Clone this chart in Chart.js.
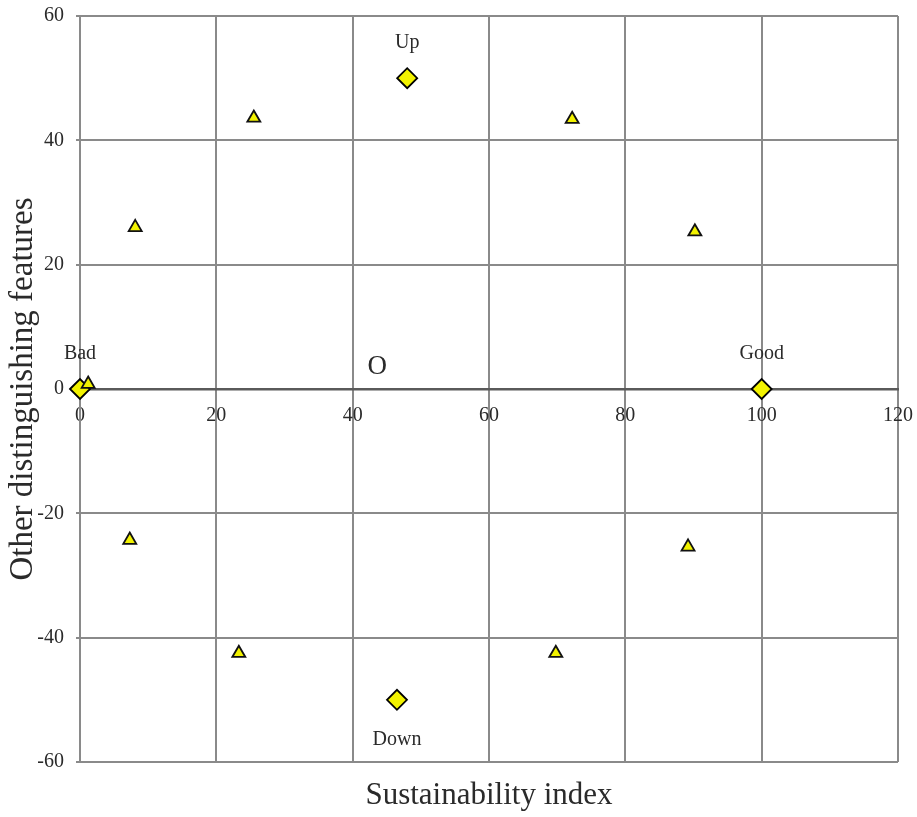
<!DOCTYPE html>
<html>
<head>
<meta charset="utf-8">
<script src="https://cdn.jsdelivr.net/npm/chart.js@4.4.1/dist/chart.umd.min.js"></script>
<style>
  html, body { margin: 0; padding: 0; background: #fff; }
</style>
</head>
<body>
<canvas id="myChart" width="917" height="817"></canvas>
<script>
// KEY POINTS (diamonds)
const keyX = [0, 100, 48, 46.5];
const keyY = [0, 0, 50, -50];
const keyNames = ['Bad', 'Good', 'Up', 'Down'];
// FEATURE POINTS (triangles)
const featX = [25.5, 72.2, 8.1, 90.2, 1.2, 7.3, 23.3, 69.8, 89.2];
const featY = [43.6, 43.4, 26, 25.3, 0.8, -24.3, -42.5, -42.5, -25.4];
// CENTRE MARK
const centreX = [43.6];
const centreY = [3.5];
const centreNames = ['O'];
// AXES
const xTicks = [0, 20, 40, 60, 80, 100, 120];
const yTicks = [-60, -40, -20, 0, 20, 40, 60];

const serif = '"Liberation Serif", "DejaVu Serif", serif';
const gridColor = '#8a8a8a';
const textColor = '#2a2a2a';

const toPoints = (xs, ys) => xs.map((v, i) => ({ x: v, y: ys[i] }));

// DRAW TEXT LABELS NEXT TO POINTS
const pointLabels = {
  id: 'pointLabels',
  afterDatasetsDraw(chart) {
    const { ctx, scales: { x, y } } = chart;
    ctx.save();
    ctx.fillStyle = textColor;
    ctx.textAlign = 'center';
    ctx.textBaseline = 'middle';
    ctx.font = '20px ' + serif;
    keyNames.forEach((name, i) => {
      const px = x.getPixelForValue(keyX[i]);
      const py = y.getPixelForValue(keyY[i]);
      ctx.fillText(name, px, keyY[i] < 0 ? py + 40 : py - 35);
    });
    ctx.font = '27px ' + serif;
    centreNames.forEach((name, i) => {
      ctx.fillText(name, x.getPixelForValue(centreX[i]), y.getPixelForValue(centreY[i]));
    });
    ctx.restore();
  }
};

const ctx = document.getElementById('myChart').getContext('2d');
const myChart = new Chart(ctx, {
  type: 'scatter',
  data: {
    datasets: [{
      label: 'Features',
      data: toPoints(featX, featY),
      pointStyle: 'triangle',
      pointRadius: 7.5,
      pointHoverRadius: 7.5,
      backgroundColor: '#f2f200',
      borderColor: '#111',
      borderWidth: 1.8,
      clip: false,
      order: 0
    }, {
      label: 'Key',
      data: toPoints(keyX, keyY),
      pointStyle: 'rectRot',
      pointRadius: 10,
      pointHoverRadius: 10,
      backgroundColor: '#f2f200',
      borderColor: '#000',
      borderWidth: 1.8,
      clip: false,
      order: 1
    }]
  },
  options: {
    responsive: false,
    animation: false,
    layout: { padding: { top: 16, right: 19, left: 0, bottom: 0 } },
    plugins: {
      legend: { display: false },
      tooltip: { enabled: false }
    },
    scales: {
      x: {
        type: 'linear',
        position: { y: 0 },
        min: xTicks[0],
        max: xTicks[xTicks.length - 1],
        afterBuildTicks: (scale) => { scale.ticks = xTicks.map(v => ({ value: v })); },
        afterFit: (scale) => { scale.paddingLeft = 0; scale.paddingRight = 0; },
        grid: { color: gridColor, lineWidth: 2, drawTicks: false },
        border: { color: '#5a5a5a', width: 2.5 },
        ticks: { color: textColor, padding: 15, font: { family: serif, size: 20 } }
      },
      x2: {
        type: 'linear',
        position: 'bottom',
        afterFit: (scale) => { scale.height = 55; scale.paddingLeft = 0; scale.paddingRight = 0; },
        grid: { display: false },
        border: { display: false },
        ticks: { display: false },
        title: {
          display: true,
          text: 'Sustainability index',
          color: textColor,
          padding: { top: 0, bottom: 3 },
          font: { family: serif, size: 31 }
        }
      },
      y: {
        type: 'linear',
        min: yTicks[0],
        max: yTicks[yTicks.length - 1],
        afterBuildTicks: (scale) => { scale.ticks = yTicks.map(v => ({ value: v })); },
        afterFit: (scale) => { scale.width = 80; scale.paddingTop = 0; scale.paddingBottom = 0; },
        grid: { color: gridColor, lineWidth: 2, tickLength: 4 },
        border: { color: gridColor, width: 2 },
        ticks: { color: textColor, padding: 12, font: { family: serif, size: 20 } },
        title: {
          display: true,
          text: 'Other distinguishing features',
          color: textColor,
          padding: { top: 4, bottom: 0 },
          font: { family: serif, size: 33 }
        }
      }
    }
  },
  plugins: [pointLabels]
});
</script>
</body>
</html>
